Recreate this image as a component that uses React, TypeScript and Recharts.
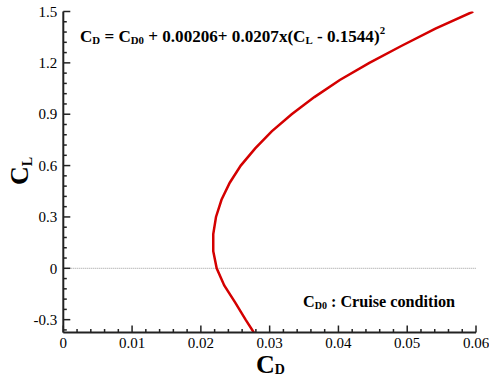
import React from "react";
import {
  LineChart,
  Line,
  XAxis,
  YAxis,
  ReferenceLine,
  Customized,
} from "recharts";

// Lift coefficient (CL) and drag coefficient (CD) read from the drag polar
const clValues = [-0.375, -0.3, -0.2, -0.1, 0, 0.1, 0.2, 0.3, 0.4, 0.5, 0.6, 0.7, 0.8, 0.9, 1.0, 1.1, 1.2, 1.3, 1.4, 1.5];
const cdValues = [0.0277, 0.0265, 0.0250, 0.0234, 0.0223, 0.0218, 0.0218, 0.0222, 0.0230, 0.0242, 0.0258, 0.0279, 0.0303, 0.0332, 0.0365, 0.0402, 0.0445, 0.0492, 0.0541, 0.0596];

// Axis ticks
const xMajorTicks = [0, 0.01, 0.02, 0.03, 0.04, 0.05, 0.06];
const xTickLabels = ["0", "0.01", "0.02", "0.03", "0.04", "0.05", "0.06"];
const yMajorTicks = [-0.3, 0, 0.3, 0.6, 0.9, 1.2, 1.5];
const yTickLabels = ["-0.3", "0", "0.3", "0.6", "0.9", "1.2", "1.5"];
const xDomain = [0, 0.06];
const yDomain = [-0.375, 1.5];

const xAllTicks: number[] = [];
for (let i = 0; i <= 30; i++) xAllTicks.push(Number((i * 0.002).toFixed(4)));
const yAllTicks: number[] = [];
for (let i = -6; i <= 25; i++) yAllTicks.push(Number((i * 0.06).toFixed(4)));

const data = clValues.map((cl, i) => ({ cd: cdValues[i], cl }));

const FONT = "Liberation Serif";
const textStyle = { fontFamily: "'Liberation Serif', 'Times New Roman', Times, serif" };
const AXIS_COLOR = "#222";
const LINE_COLOR = "#d40000";

const findMajor = (list: number[], v: number) =>
  list.findIndex((m) => Math.abs(m - v) < 1e-7);

const XTick = (props: any) => {
  const { x, y, payload } = props;
  const idx = findMajor(xMajorTicks, payload.value);
  const major = idx >= 0;
  return (
    <g>
      <line x1={x} x2={x} y1={y} y2={y - (major ? 7 : 3.5)} stroke={AXIS_COLOR} strokeWidth={1.5} />
      {major && (
        <text x={x} y={y + 15} textAnchor="middle" fontFamily={FONT} style={textStyle} fontSize={15} fill="#000">
          {xTickLabels[idx]}
        </text>
      )}
    </g>
  );
};

const YTick = (props: any) => {
  const { x, y, payload } = props;
  const idx = findMajor(yMajorTicks, payload.value);
  const major = idx >= 0;
  return (
    <g>
      <line x1={x} x2={x + (major ? 7 : 3.5)} y1={y} y2={y} stroke={AXIS_COLOR} strokeWidth={1.5} />
      {major && (
        <text x={x - 6} y={y} dy="0.35em" textAnchor="end" fontFamily={FONT} style={textStyle} fontSize={15} fill="#000">
          {yTickLabels[idx]}
        </text>
      )}
    </g>
  );
};

const Annotations = () => (
  <g fill="#000" fontWeight="bold" style={textStyle}>
    <text x={80} y={41.5} fontSize={17.1} style={textStyle}>
      C<tspan fontSize={10.8} dy={2}>D</tspan>
      <tspan dy={-2}> = C</tspan>
      <tspan fontSize={10.8} dy={2}>D0</tspan>
      <tspan dy={-2}> + 0.00206+ 0.0207x(C</tspan>
      <tspan fontSize={10.8} dy={2}>L</tspan>
      <tspan dy={-2}> - 0.1544)</tspan>
      <tspan fontSize={10.8} dy={-8}>2</tspan>
    </text>
    <text x={303} y={306.5} fontSize={16.2} style={textStyle}>
      C<tspan fontSize={10} dy={2}>D0</tspan>
      <tspan dy={-2}> : Cruise condition</tspan>
    </text>
    <text x={256} y={373} fontSize={26} style={textStyle}>
      C<tspan fontSize={14} dy={1}>D</tspan>
    </text>
    <text x={28} y={185} fontSize={26} style={textStyle} transform="rotate(-90, 28, 185)">
      C<tspan fontSize={14} dy={4}>L</tspan>
    </text>
  </g>
);

export default function App() {
  return (
    <div style={{ position: "absolute", left: 0, top: 0, width: 489, height: 380, background: "#fff" }}>
      <LineChart
        width={489}
        height={380}
        data={data}
        margin={{ top: 11.5, right: 13, bottom: 17.5, left: 3.3 }}
      >
        <XAxis
          dataKey="cd"
          type="number"
          domain={xDomain}
          allowDataOverflow
          ticks={xAllTicks}
          interval={0}
          tickSize={0}
          tickMargin={0}
          tickLine={false}
          tick={<XTick />}
          height={30}
          axisLine={{ stroke: AXIS_COLOR, strokeWidth: 2 }}
        />
        <XAxis
          xAxisId="top"
          orientation="top"
          type="number"
          domain={xDomain}
          allowDataOverflow
          height={0}
          tick={false}
          tickLine={false}
          axisLine={{ stroke: AXIS_COLOR, strokeWidth: 2 }}
        />
        <YAxis
          type="number"
          domain={yDomain}
          allowDataOverflow
          ticks={yAllTicks}
          interval={0}
          tickSize={0}
          tickMargin={0}
          tickLine={false}
          tick={<YTick />}
          width={60}
          axisLine={{ stroke: AXIS_COLOR, strokeWidth: 2 }}
        />
        <YAxis
          yAxisId="right"
          orientation="right"
          type="number"
          domain={yDomain}
          allowDataOverflow
          width={0}
          tick={false}
          tickLine={false}
          axisLine={{ stroke: AXIS_COLOR, strokeWidth: 2 }}
        />
        <ReferenceLine y={0} stroke="#999" strokeWidth={1} strokeDasharray="1 1" />
        <Line
          type="linear"
          dataKey="cl"
          stroke={LINE_COLOR}
          strokeWidth={2.5}
          dot={false}
          isAnimationActive={false}
        />
        <Customized component={Annotations} />
      </LineChart>
    </div>
  );
}
